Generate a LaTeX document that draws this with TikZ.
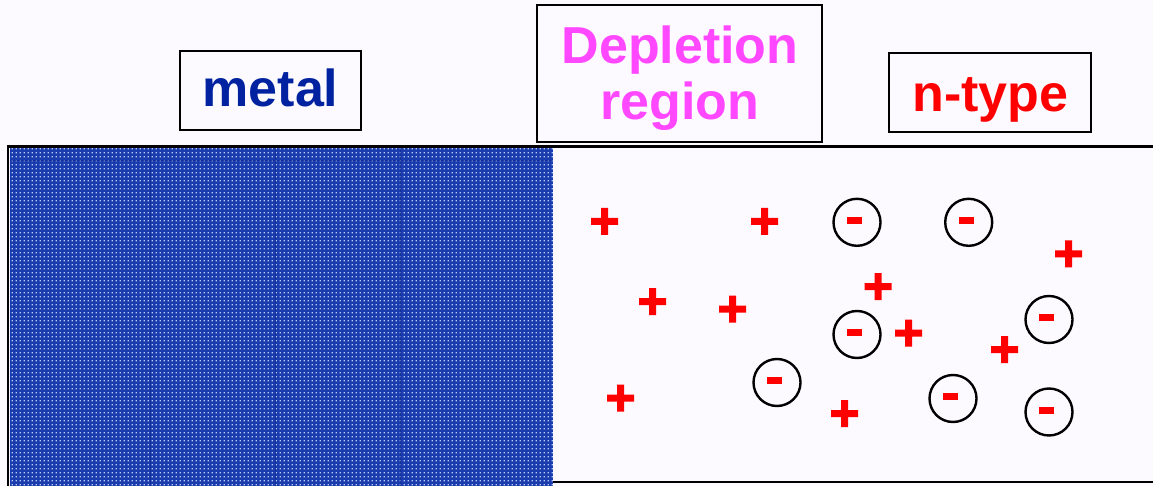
\documentclass[tikz,border=0pt]{standalone}
\usepackage{fontspec}
\setmainfont{Liberation Sans}
\usetikzlibrary{patterns.meta}
\definecolor{bgc}{RGB}{252,250,255}
\definecolor{metalblue}{RGB}{26,60,175}
\definecolor{dotblue}{RGB}{190,205,248}
\definecolor{seamblue}{RGB}{10,35,140}
\definecolor{metaltxt}{RGB}{0,34,160}
\definecolor{deplmag}{RGB}{255,72,255}
\definecolor{ntred}{RGB}{255,0,0}
\tikzdeclarepattern{
  name=metaldots,
  type=uncolored,
  bounding box={(0pt,0pt) and (3.6pt,3.6pt)},
  tile size={(3.6pt,3.6pt)},
  code={\pgfpathrectangle{\pgfpoint{0.8pt}{0.8pt}}{\pgfpoint{1.3pt}{1.3pt}}\pgfusepath{fill}}
}
\tikzset{
  labelbox/.style={draw=black, line width=2.6pt, fill=bgc, inner sep=0pt},
  bigtxt/.style={font=\fontsize{52}{56}\selectfont\bfseries, inner sep=0pt, anchor=base},
  ion/.style={circle, draw=black, line width=2.4pt, minimum size=47pt, inner sep=0pt},
  plusmark/.pic={\fill[ntred] (-13.5,-3.5) rectangle (13.5,3.5) (-3.5,-13.5) rectangle (3.5,13.5);},
}
\begin{document}
\begin{tikzpicture}[x=1pt,y=-1pt]
\fill[bgc] (0,0) rectangle (1153,486);
\useasboundingbox (0,0) rectangle (1153,486);
% metal block
\fill[metalblue] (10,148) rectangle (553,486);
\fill[pattern=metaldots, pattern color=dotblue] (10,148) rectangle (553,486);
\draw[seamblue, line width=0.8pt, opacity=0.6] (150,148)--(150,486) (275,148)--(275,486) (400,148)--(400,486) (10,160)--(553,160);
% outline of the semiconductor bar
\draw[black, line width=2.6pt] (8,486) -- (8,146.5) -- (1153,146.5);
\draw[black, line width=2.6pt] (553,482) -- (1153,482);
% label boxes
\node[labelbox, minimum width=181pt, minimum height=79pt] (metalbox) at (270.5,90.5) {};
\node[bigtxt, text=metaltxt] (metaltext) at (270.5,106.5) {metal};
\node[labelbox, minimum width=285pt, minimum height=137pt] (deplbox) at (679.5,73.7) {};
\node[bigtxt, text=deplmag] (depl1) at (680,64) {Depletion};
\node[bigtxt, text=deplmag] (depl2) at (680,120) {region};
\node[labelbox, minimum width=202pt, minimum height=79pt] (nbox) at (990,92.5) {};
\node[bigtxt, text=ntred] (ntext) at (990.5,111.5) {n-type};
% positive donors
\pic at (604.5,221.5) {plusmark};
\pic at (764.5,221.5) {plusmark};
\pic at (652.5,301.5) {plusmark};
\pic at (732.5,309) {plusmark};
\pic at (878,286.5) {plusmark};
\pic at (908.5,333) {plusmark};
\pic at (1068.5,254) {plusmark};
\pic at (1004.5,349.5) {plusmark};
\pic at (620.5,398) {plusmark};
\pic at (844.5,413.5) {plusmark};
% electrons
\foreach \n/\x/\y in {e1/857/222.3, e2/968.7/222.3, e3/857/334.5, e4/1049/319.5, e5/777/382.5, e6/953/398.5, e7/1049/412}{
  \node[ion] (\n) at (\x,\y) {};
  \fill[ntred] ([shift={(-10,-5.5)}]\n.center) rectangle ([shift={(5,1.5)}]\n.center);
}
\end{tikzpicture}
\end{document}
